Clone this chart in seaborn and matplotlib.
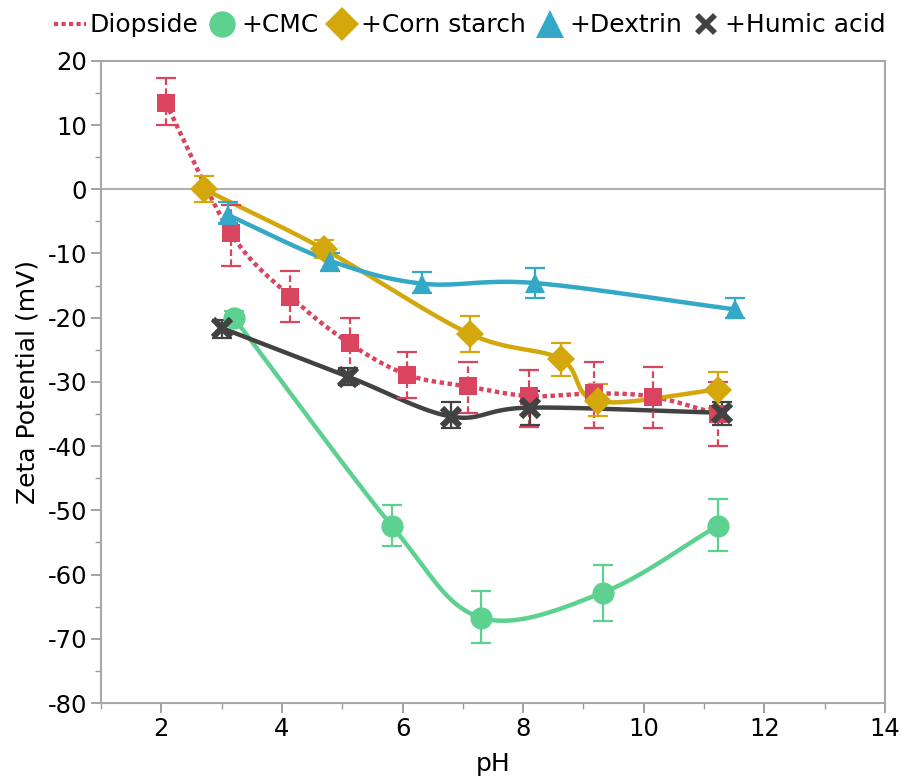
import numpy as np
import matplotlib
matplotlib.use("Agg")
import matplotlib.pyplot as plt
import seaborn as sns
from matplotlib.lines import Line2D

# ---- data ----
dio_ph = [2.07, 3.15, 4.14, 5.12, 6.08, 7.08, 8.10, 9.17, 10.15, 11.23]
dio_zp = [13.5, -6.8, -16.7, -24.0, -28.9, -30.7, -32.2, -31.8, -32.3, -35.0]
dio_lo = [10.0, -12.0, -20.6, -30.3, -32.5, -34.8, -37.0, -37.2, -37.2, -40.0]
dio_hi = [17.4, -2.5, -12.7, -20.0, -25.3, -26.9, -28.2, -26.9, -27.6, -30.0]

cmc_ph = [3.20, 5.82, 7.30, 9.32, 11.23]
cmc_zp = [-20.0, -52.4, -66.7, -62.8, -52.4]
cmc_lo = [-21.0, -55.5, -70.6, -67.2, -56.3]
cmc_hi = [-19.0, -49.1, -62.5, -58.5, -48.3]

corn_ph = [2.71, 4.69, 7.11, 8.62, 9.24, 11.23]
corn_zp = [0.0, -9.3, -22.5, -26.4, -33.0, -31.2]
corn_lo = [-2.0, -10.7, -25.3, -29.1, -35.3, -34.0]
corn_hi = [2.0, -7.9, -19.7, -23.9, -30.3, -28.5]

dex_ph = [3.10, 4.79, 6.33, 8.19, 11.51]
dex_zp = [-4.0, -11.1, -14.7, -14.6, -18.7]
dex_lo = [-5.2, -12.7, -16.1, -16.9, -20.0]
dex_hi = [-2.0, -9.9, -12.9, -12.2, -16.9]

hum_ph = [3.00, 5.10, 6.81, 8.11, 11.29]
hum_zp = [-21.6, -29.2, -35.4, -34.0, -34.8]
hum_lo = [-23.1, -30.5, -37.2, -36.7, -36.7]
hum_hi = [-20.3, -27.8, -33.2, -31.4, -33.1]

labels = ["Diopside", "+CMC", "+Corn starch", "+Dextrin", "+Humic acid"]
colors = ["#d9455f", "#5dd18f", "#d4a80c", "#33a8c7", "#424242"]

x_ticks = [2, 4, 6, 8, 10, 12, 14]
y_ticks = [20, 10, 0, -10, -20, -30, -40, -50, -60, -70, -80]


def smooth(x, y, n=30):
    """Catmull-Rom style smoothing of a polyline (Excel-like smoothed line)."""
    x = np.asarray(x, float); y = np.asarray(y, float)
    P = np.column_stack([x, y])
    P = np.vstack([2 * P[0] - P[1], P, 2 * P[-1] - P[-2]])
    out = []
    t = np.linspace(0, 1, n)
    for i in range(1, len(P) - 2):
        p0, p1, p2, p3 = P[i - 1], P[i], P[i + 1], P[i + 2]
        tt = t[:, None]
        seg = 0.5 * ((2 * p1) + (-p0 + p2) * tt + (2 * p0 - 5 * p1 + 4 * p2 - p3) * tt ** 2
                     + (-p0 + 3 * p1 - 3 * p2 + p3) * tt ** 3)
        out.append(seg if i == 1 else seg[1:])
    S = np.vstack(out)
    return S[:, 0], S[:, 1]


sns.set_style("ticks")
plt.rcParams["font.family"] = ["DejaVu Sans"]
plt.rcParams["axes.unicode_minus"] = False
plt.rcParams["text.color"] = "black"
plt.rcParams["axes.labelcolor"] = "black"
plt.rcParams["xtick.color"] = "#9a9a9a"
plt.rcParams["ytick.color"] = "#9a9a9a"
plt.rcParams["xtick.labelcolor"] = "black"
plt.rcParams["ytick.labelcolor"] = "black"

fig = plt.figure(figsize=(9.03, 7.8), dpi=100)
ax = fig.add_axes([0.112, 0.0987, 0.868, 0.8233])

series = [
    (dio_ph, dio_zp, dio_lo, dio_hi, "s", 13, ":", 3.2),
    (cmc_ph, cmc_zp, cmc_lo, cmc_hi, "o", 16, "-", 3.2),
    (corn_ph, corn_zp, corn_lo, corn_hi, "D", 14, "-", 3.2),
    (dex_ph, dex_zp, dex_lo, dex_hi, "^", 14, "-", 3.2),
    (hum_ph, hum_zp, hum_lo, hum_hi, "x", 13, "-", 3.2),
]

for i, (xs, ys, lo, hi, mk, ms, ls, lw) in enumerate(series):
    c = colors[i]
    sx, sy = smooth(xs, ys)
    sns.lineplot(x=sx, y=sy, ax=ax, color=c, lw=lw, linestyle=ls, sort=False,
                 estimator=None, zorder=2 + i * 0.1)
    if i == 0:
        ax.lines[-1].set_dashes([1.0, 0.8])
        ax.lines[-1].set_dash_capstyle("butt")
    ys_a = np.asarray(ys); lo_a = np.asarray(lo); hi_a = np.asarray(hi)
    eb = ax.errorbar(xs, ys, yerr=[ys_a - lo_a, hi_a - ys_a], fmt="none", ecolor=c,
                     elinewidth=1.6, capsize=7, capthick=1.6, zorder=3 + i * 0.1)
    if i == 0:
        for lc in eb[2]:
            lc.set_linestyle((0, (3, 1.5)))
    if mk == "x":
        ax.plot(xs, ys, linestyle="none", marker=mk, markersize=ms, markeredgewidth=4.5,
                color=c, zorder=4 + i * 0.1)
    else:
        ax.plot(xs, ys, linestyle="none", marker=mk, markersize=ms, color=c,
                markeredgewidth=0, zorder=4 + i * 0.1)

ax.axhline(0, color="#b0b0b0", lw=1.5, zorder=1)

ax.set_xlim(1, 14)
ax.set_ylim(-80, 20)
ax.set_xticks(x_ticks)
ax.set_yticks(y_ticks)
ax.set_xticks(np.arange(1, 15, 1), minor=True)
ax.set_yticks(np.arange(-80, 21, 5), minor=True)
ax.tick_params(axis="both", which="major", labelsize=17.5, length=7, width=1.3,
               direction="out", pad=3)
ax.tick_params(axis="both", which="minor", length=4, width=1.0, direction="out")
ax.tick_params(top=False, right=False, which="both")
for s in ax.spines.values():
    s.set_color("#a8a8a8")
    s.set_linewidth(1.5)
    s.set_visible(True)

ax.set_xlabel("pH", fontsize=18, labelpad=8)
ax.set_ylabel("Zeta Potential (mV)", fontsize=18, labelpad=6)

handles = [
    Line2D([0], [0], color=colors[0], lw=3, dashes=[1.0, 0.8]),
    Line2D([0], [0], color=colors[1], marker="o", ms=19, lw=0, markeredgewidth=0),
    Line2D([0], [0], color=colors[2], marker="D", ms=17, lw=0, markeredgewidth=0),
    Line2D([0], [0], color=colors[3], marker="^", ms=20, lw=0, markeredgewidth=0),
    Line2D([0], [0], color=colors[4], marker="x", ms=13, lw=0, markeredgewidth=4),
]
fig.legend(handles, labels, loc="upper center", bbox_to_anchor=(0.52, 1.002), ncol=5,
           frameon=False, fontsize=18, handlelength=1.3, handletextpad=0.12,
           columnspacing=0.3, borderaxespad=0.2)

fig.savefig("out.png", dpi=100)
